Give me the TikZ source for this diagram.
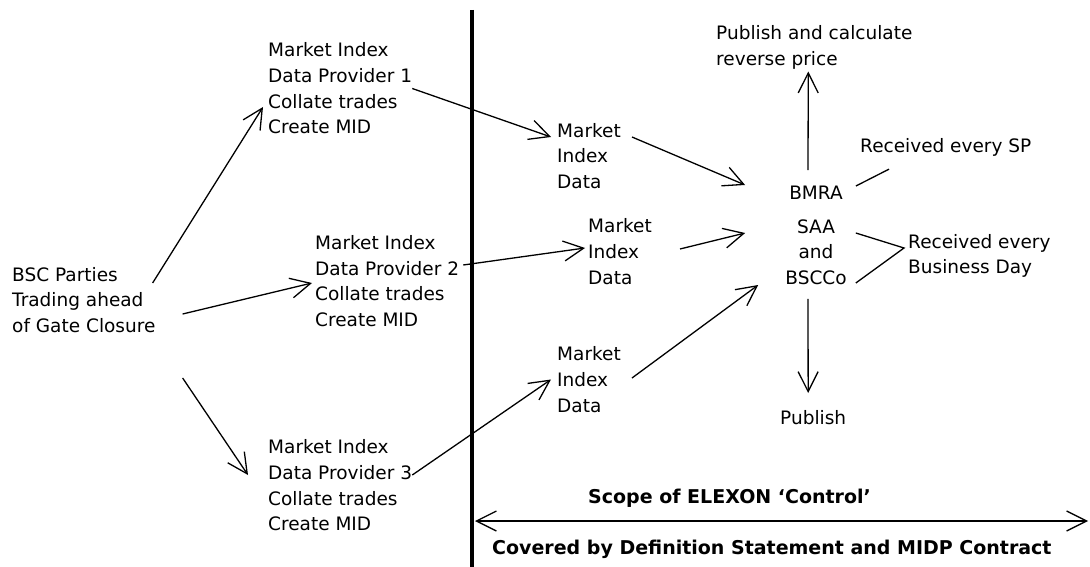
\documentclass[tikz,border=0pt]{standalone}
\usepackage{fontspec}
\setmainfont{DejaVu Sans}
\usetikzlibrary{arrows.meta}
\tikzset{plain text/.style={inner sep=0pt, align=left, font=\fontsize{18.5}{25.7}\selectfont},
  bold text/.style={inner sep=0pt, font=\bfseries\fontsize{19}{24}\selectfont},
  flow/.style={->, line width=1.3pt},
  feed/.style={line width=1.3pt}}

\begin{document}
\begin{tikzpicture}[x=1pt, y=-1pt, >={Straight Barb[length=20pt,width=20pt]}]
    \fill[white] (0,0) rectangle (1090,567);
    \useasboundingbox (0,0) rectangle (1090,567);
    \node[plain text, anchor=west] (bsc) at (12,300) {BSC Parties\\Trading ahead\\of Gate Closure};
    \node[plain text, anchor=west] (mdp1) at (268,88.5) {Market Index\\Data Provider 1\\Collate trades\\Create MID};
    \node[plain text, anchor=west] (mdp2) at (315,281) {Market Index\\Data Provider 2\\Collate trades\\Create MID};
    \node[plain text, anchor=west] (mdp3) at (268,485.5) {Market Index\\Data Provider 3\\Collate trades\\Create MID};
    \node[plain text, anchor=west] (mid1) at (557,156) {Market\\Index\\Data};
    \node[plain text, anchor=west] (mid2) at (588,251.5) {Market\\Index\\Data};
    \node[plain text, anchor=west] (mid3) at (557,379.5) {Market\\Index\\Data};
    \node[plain text, align=center] (bmra) at (816,193) {BMRA};
    \node[plain text, align=center] (saa) at (816,252) {SAA\\and\\BSCCo};
    \node[plain text, anchor=west] (pubrev) at (716,47.5) {Publish and calculate\\reverse price};
    \node[plain text, anchor=west] (pub) at (780,418) {Publish};
    \node[plain text, anchor=west] (recsp) at (860,147) {Received every SP};
    \node[plain text, anchor=west] (recbd) at (908,256) {Received every\\Business Day};
    \node[bold text, anchor=west] (scope) at (588,498) {Scope of ELEXON `Control'};
    \node[bold text, anchor=west] (cover) at (492,549) {Covered by Definition Statement and MIDP Contract};
    \coordinate (ctop) at (472,10);
    \coordinate (cbot) at (472,567);
    \coordinate (sleft) at (475,521);
    \coordinate (sright) at (1088,521);
    \draw[line width=3.5pt] (ctop) -- (cbot);
    \draw[flow, <->] (sleft) -- (sright);
    \draw[flow] ([xshift=-3pt,yshift=17pt]bsc.east) -- ([xshift=-5pt,yshift=-18.5pt]mdp1.west);
    \draw[flow] ([xshift=27pt,yshift=-14pt]bsc.east) -- ([xshift=-3pt,yshift=-2pt]mdp2.west);
    \draw[flow] ([xshift=27pt,yshift=-78pt]bsc.east) -- ([xshift=-20pt,yshift=10.5pt]mdp3.west);
    \draw[flow] (mdp1.east) -- ([xshift=-6pt,yshift=19pt]mid1.west);
    \draw[flow] ([xshift=4pt,yshift=16pt]mdp2.east) -- ([xshift=-3pt,yshift=3.5pt]mid2.west);
    \draw[flow] ([yshift=10.5pt]mdp3.east) -- ([xshift=-6pt]mid3.west);
    \draw[flow] ([xshift=11pt,yshift=19pt]mid1.east) -- ([xshift=-44pt,yshift=8pt]bmra.west);
    \draw[flow] ([xshift=28pt,yshift=2.5pt]mid2.east) -- ([xshift=-40pt,yshift=19pt]saa.west);
    \draw[flow] ([xshift=11pt,yshift=1.5pt]mid3.east) -- ([xshift=-27pt,yshift=-33pt]saa.west);
    \draw[flow] ([xshift=-8pt,yshift=16pt]bmra.north) -- ([xshift=-6pt,yshift=-2pt]pubrev.south);
    \draw[flow] ([xshift=-8pt,yshift=-14pt]saa.south) -- ([xshift=-5pt,yshift=17.6pt]pub.north);
    \draw[feed] ([xshift=13pt,yshift=7pt]bmra.east) -- ([xshift=29pt,yshift=-13pt]recsp.south west);
    \draw[feed] ([xshift=9pt,yshift=19pt]saa.east) -- ([xshift=-4pt,yshift=8pt]recbd.west) -- ([xshift=9pt,yshift=-31pt]saa.east);
\end{tikzpicture}
\end{document}
